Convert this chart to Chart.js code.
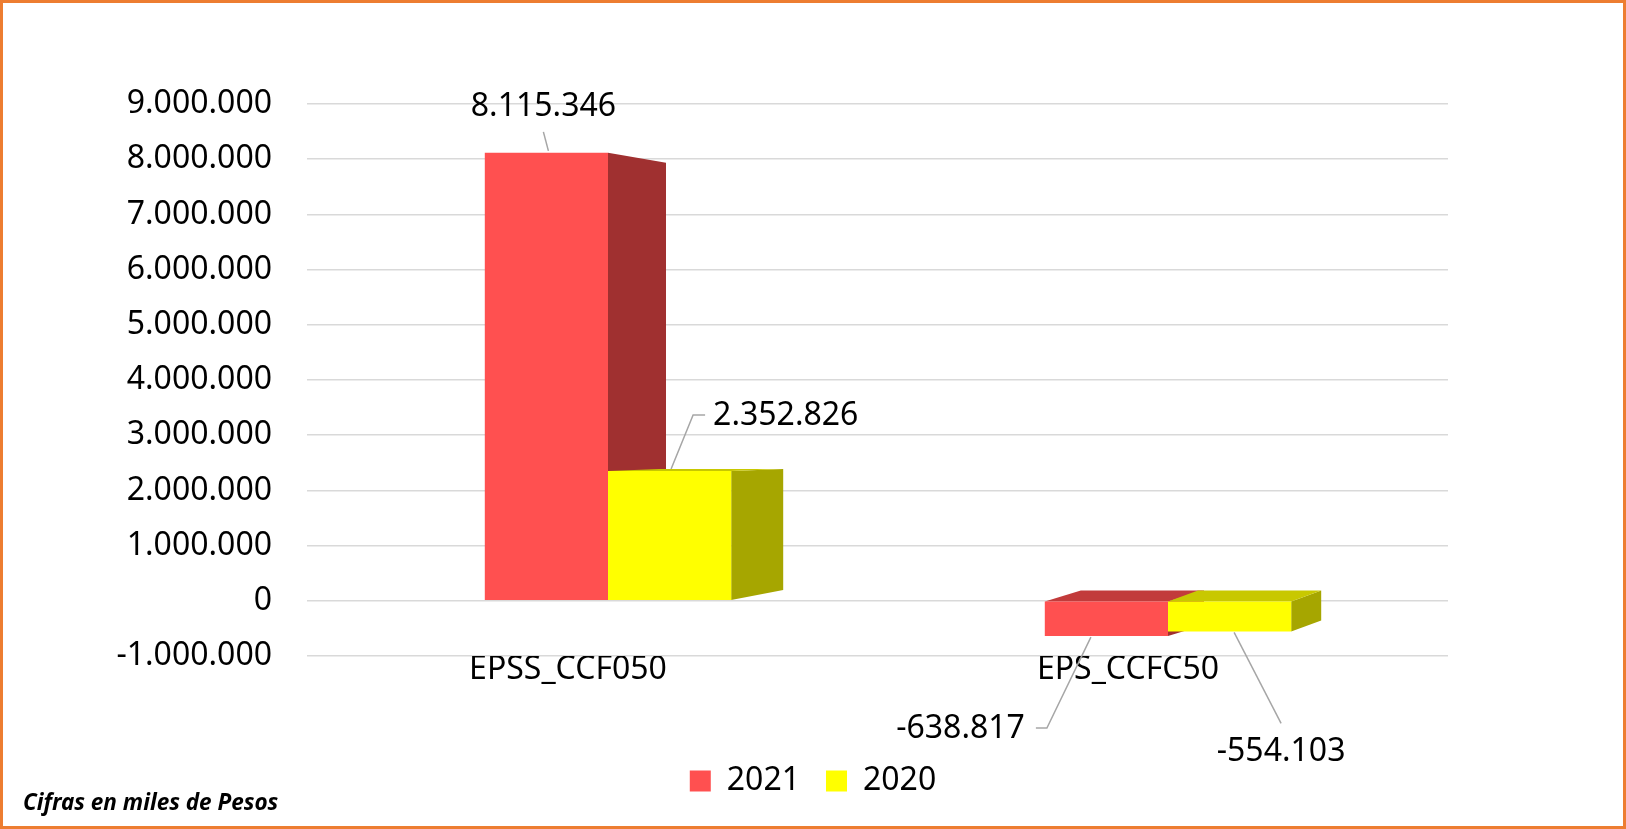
<!DOCTYPE html>
<html>
<head>
<meta charset="utf-8">
<title>EPSS_CCF050 / EPS_CCFC50</title>
<script src="https://cdn.jsdelivr.net/npm/chart.js@4/dist/chart.umd.min.js"></script>
<style>
  html, body { margin: 0; padding: 0; background: #fff; }
  #wrap { position: relative; width: 1626px; height: 829px; overflow: hidden; }
  #chart { position: absolute; left: 0; top: 0; }
  #frame { position: absolute; inset: 0; border: 3px solid #ED7D31; pointer-events: none; }
  #note { position: absolute; left: 23px; top: 786px; font: italic bold 22.5px "Noto Sans", sans-serif; color: #000; }
</style>
</head>
<body>
<div id="wrap">
  <canvas id="chart" width="1626" height="829"></canvas>
  <div id="frame"></div>
  <div id="note">Cifras en miles de Pesos</div>
</div>
<script>
// data (miles de pesos)
const categories = ['EPSS_CCF050', 'EPS_CCFC50'];
const seriesNames = ['2021', '2020'];
const values2021 = [8115346, -638817];
const values2020 = [2352826, -554103];
const yTickValues = [-1000000, 0, 1000000, 2000000, 3000000, 4000000, 5000000, 6000000, 7000000, 8000000, 9000000];

// colours: front / side / top
const faceColors = [
  { front: '#FF5050', side: '#A03030', top: '#C23B3B' },
  { front: '#FFFF00', side: '#A6A600', top: '#C8C800' }
];

// fake depth per series, per category
const depth = [
  [{ dx: 58, dyTop: 10, dyBot: -8 }, { dx: 36, dyTop: -11, dyBot: -11 }],
  [{ dx: 52, dyTop: -2, dyBot: -10 }, { dx: 30, dyTop: -11, dyBot: -11 }]
];

// where each value label sits, relative to bar centre / bar end
const labelPlace = [
  [
    { tx: -3, ty: -46, align: 'center', lead: [[2, -2], [-3, -21]] },
    { tx: -81.5, ty: 93, align: 'right', lead: [[-15.5, 1], [-59.5, 92], [-70.5, 92]] }
  ],
  [
    { tx: 43.5, ty: -55, align: 'left', lead: [[1.5, -2], [23.5, -56], [35.5, -56]] },
    { tx: 51.5, ty: 121, align: 'center', lead: [[4.5, 1], [51.5, 92]] }
  ]
];

const FONT = '"Noto Sans", sans-serif';

function fmt(v) {
  const s = Math.abs(Math.round(v)).toString().replace(/\B(?=(\d{3})+(?!\d))/g, '.');
  return (v < 0 ? '-' : '') + s;
}

// side and top faces, all drawn before the fronts so nearer fronts cover them
const depthPlugin = {
  id: 'depth3d',
  beforeDatasetsDraw(chart) {
    const ctx = chart.ctx;
    chart.data.datasets.forEach((ds, di) => {
      const cols = faceColors[di];
      chart.getDatasetMeta(di).data.forEach((bar, i) => {
        const p = bar.getProps(['x', 'y', 'base', 'width'], true);
        const l = p.x - p.width / 2, r = p.x + p.width / 2;
        const top = Math.min(p.y, p.base), bot = Math.max(p.y, p.base);
        const d = depth[di][i];
        ctx.save();
        ctx.fillStyle = cols.side;
        ctx.beginPath();
        ctx.moveTo(r, top);
        ctx.lineTo(r + d.dx, top + d.dyTop);
        ctx.lineTo(r + d.dx, bot + d.dyBot);
        ctx.lineTo(r, bot);
        ctx.closePath();
        ctx.fill();
        if (d.dyTop < 0) {
          ctx.fillStyle = cols.top;
          ctx.beginPath();
          ctx.moveTo(l, top);
          ctx.lineTo(r, top);
          ctx.lineTo(r + d.dx, top + d.dyTop);
          ctx.lineTo(l + d.dx, top + d.dyTop);
          ctx.closePath();
          ctx.fill();
        }
        ctx.restore();
      });
    });
  }
};

const valueLabels = {
  id: 'valueLabels',
  afterDatasetsDraw(chart) {
    const ctx = chart.ctx;
    chart.data.datasets.forEach((ds, di) => {
      const meta = chart.getDatasetMeta(di);
      meta.data.forEach((bar, i) => {
        const p = bar.getProps(['x', 'y'], true);
        const pl = labelPlace[di][i];
        ctx.save();
        ctx.strokeStyle = '#A6A6A6';
        ctx.lineWidth = 1.5;
        ctx.beginPath();
        pl.lead.forEach((pt, k) => {
          if (k === 0) ctx.moveTo(p.x + pt[0], p.y + pt[1]);
          else ctx.lineTo(p.x + pt[0], p.y + pt[1]);
        });
        ctx.stroke();
        ctx.fillStyle = '#000';
        ctx.font = '32px ' + FONT;
        ctx.textAlign = pl.align;
        ctx.textBaseline = 'middle';
        ctx.fillText(fmt(ds.data[i]), p.x + pl.tx, p.y + pl.ty);
        ctx.restore();
      });
    });
  }
};

new Chart(document.getElementById('chart'), {
  type: 'bar',
  data: {
    labels: categories,
    datasets: [
      { label: seriesNames[0], data: values2021, backgroundColor: faceColors[0].front, borderWidth: 0 },
      { label: seriesNames[1], data: values2020, backgroundColor: faceColors[1].front, borderWidth: 0 }
    ]
  },
  options: {
    responsive: false,
    devicePixelRatio: 1,
    animation: false,
    layout: { padding: { top: 104, right: 0, bottom: 22, left: 0 } },
    datasets: { bar: { categoryPercentage: 0.44, barPercentage: 1 } },
    scales: {
      x: {
        grid: { display: false },
        border: { display: false },
        ticks: { color: '#000', font: { family: FONT, size: 32 }, labelOffset: -40, padding: -13 },
        afterFit(scale) { scale.height = 83; }
      },
      y: {
        min: yTickValues[0],
        max: yTickValues[yTickValues.length - 1],
        afterBuildTicks(scale) { scale.ticks = yTickValues.map(v => ({ value: v })); },
        afterFit(scale) { scale.width = 328; },
        grid: { color: '#D9D9D9', lineWidth: 1.5, tickLength: 21, tickColor: '#D9D9D9' },
        border: { display: false },
        ticks: { color: '#000', font: { family: FONT, size: 32 }, padding: 35, callback: v => fmt(v) }
      },
      // empty right axis, only keeps the plot clear of the right margin
      yRight: {
        position: 'right',
        grid: { display: false },
        border: { display: false },
        ticks: { display: false },
        afterFit(scale) { scale.width = 178; }
      }
    },
    plugins: {
      legend: {
        position: 'bottom',
        labels: { color: '#000', font: { family: FONT, size: 32 }, boxWidth: 21, boxHeight: 21, padding: 26 }
      },
      tooltip: { enabled: false }
    }
  },
  plugins: [depthPlugin, valueLabels]
});
</script>
</body>
</html>
